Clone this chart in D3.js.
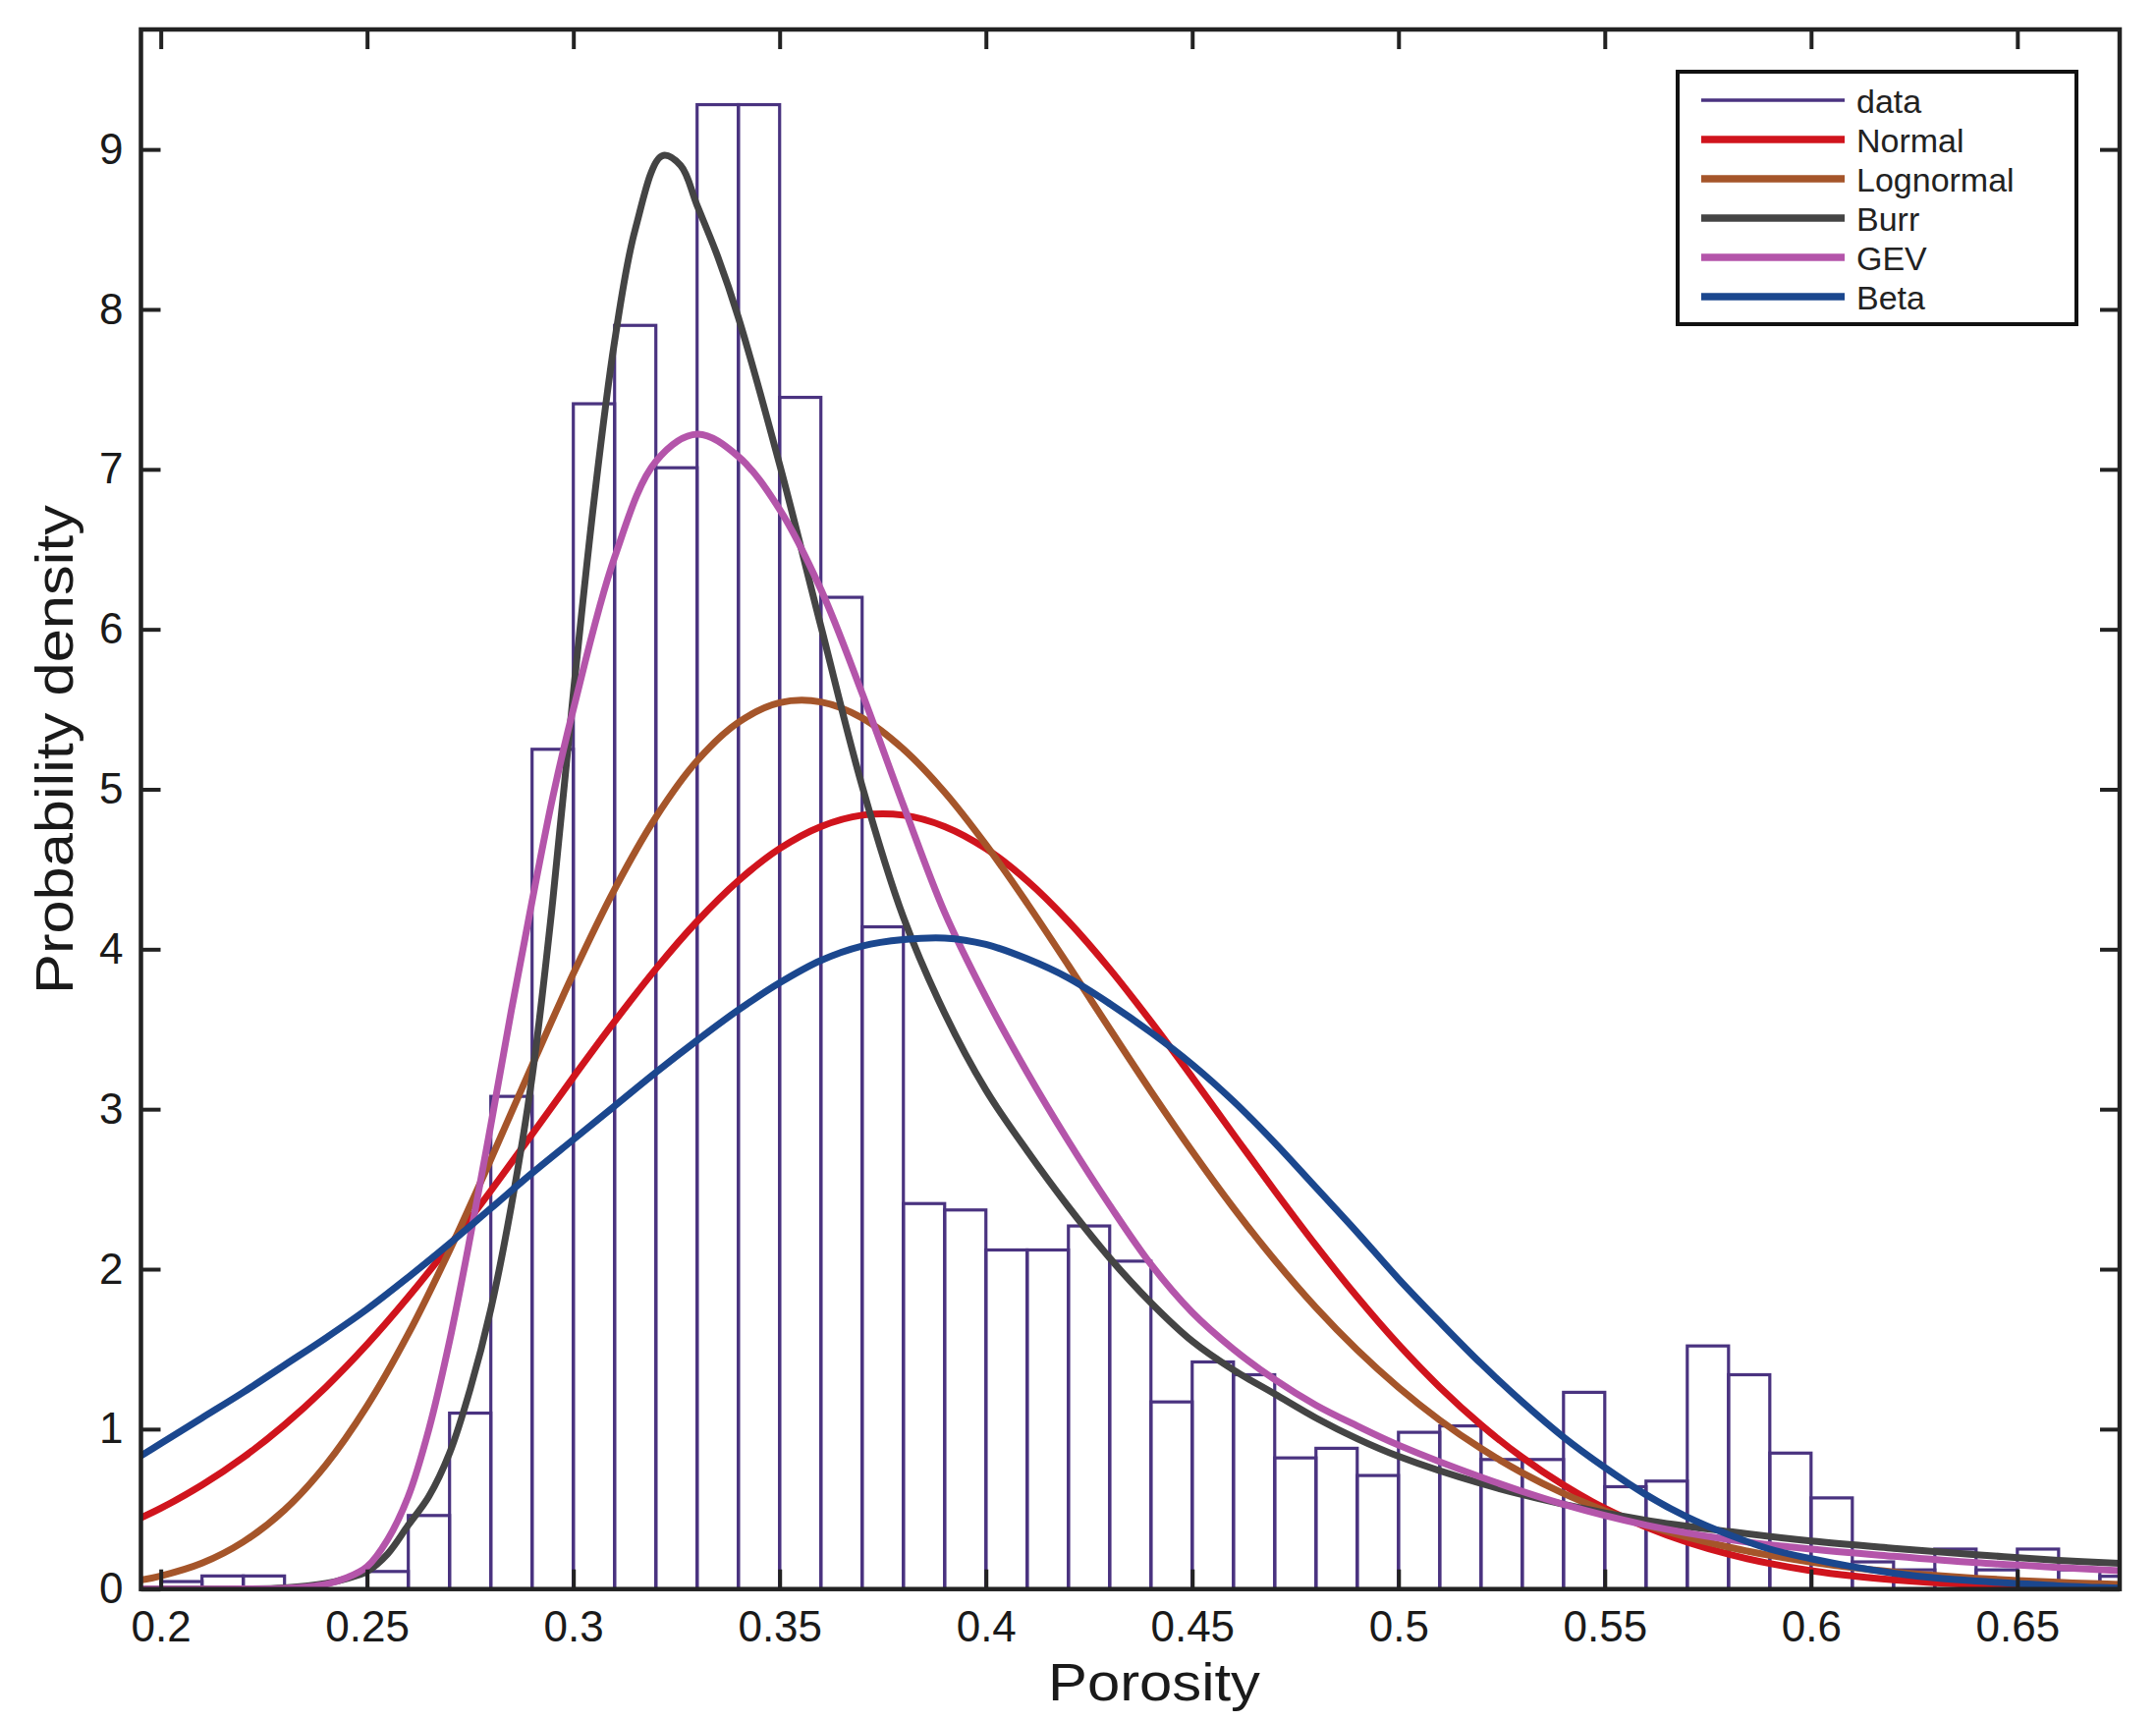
<!DOCTYPE html>
<html>
<head>
<meta charset="utf-8">
<script src="https://cdn.jsdelivr.net/npm/d3@7"></script>
<style>
html,body{margin:0;padding:0;background:#ffffff;}
svg{display:block;font-family:"Liberation Sans",Arial,Helvetica,sans-serif;}
</style>
</head>
<body>
<svg id="chart" width="2195" height="1752"></svg>
<script>
// ---------------- data ----------------
const binLeft = [0.20,0.21,0.22,0.23,0.24,0.25,0.26,0.27,0.28,0.29,0.30,0.31,0.32,0.33,0.34,0.35,0.36,0.37,0.38,0.39,
                 0.40,0.41,0.42,0.43,0.44,0.45,0.46,0.47,0.48,0.49,0.50,0.51,0.52,0.53,0.54,0.55,0.56,0.57,0.58,0.59,
                 0.60,0.61,0.62,0.63,0.64,0.65,0.66,0.67];
const density = [0.047,0.082,0.082,0,0,0.11,0.46,1.10,3.08,5.25,7.41,7.90,7.01,9.28,9.28,7.45,6.20,4.14,2.41,2.37,
                 2.12,2.12,2.27,2.05,1.17,1.42,1.34,0.82,0.88,0.71,0.98,1.02,0.81,0.81,1.23,0.64,0.675,1.52,1.34,0.85,
                 0.57,0.17,0.12,0.25,0.12,0.25,0.12,0.08];
const binWidth = 0.01;

const gridX = [0.195,0.20,0.21,0.22,0.23,0.24,0.25,0.26,0.27,0.28,0.29,0.30,0.31,0.32,0.33,0.34,0.35,0.36,0.37,0.38,
               0.39,0.40,0.41,0.42,0.43,0.44,0.45,0.46,0.47,0.48,0.49,0.50,0.51,0.52,0.53,0.54,0.55,0.56,0.57,0.58,
               0.59,0.60,0.61,0.62,0.63,0.64,0.65,0.66,0.67,0.675];
const normalY = [0.443,0.505,0.650,0.823,1.027,1.262,1.529,1.826,2.148,2.490,2.843,3.200,3.548,3.877,4.174,4.428,4.629,4.767,4.838,4.838,
                 4.767,4.629,4.428,4.174,3.877,3.548,3.200,2.843,2.490,2.148,1.826,1.529,1.262,1.027,0.823,0.650,0.505,0.388,0.293,0.218,
                 0.160,0.115,0.082,0.058,0.040,0.027,0.018,0.012,0.008,0.006];
const lognormalY = [0.056,0.082,0.162,0.295,0.495,0.776,1.144,1.595,2.117,2.686,3.274,3.848,4.375,4.825,5.178,5.418,5.541,5.546,5.446,5.251,
                    4.982,4.654,4.287,3.899,3.503,3.112,2.737,2.383,2.057,1.760,1.495,1.261,1.056,0.879,0.727,0.598,0.490,0.399,0.324,0.262,
                    0.211,0.169,0.135,0.108,0.086,0.068,0.054,0.042,0.033,0.029];
const betaY = [0.83,0.91,1.07,1.23,1.40,1.57,1.75,1.95,2.16,2.38,2.60,2.81,3.02,3.23,3.43,3.62,3.79,3.93,4.02,4.06,
               4.07,4.03,3.94,3.82,3.66,3.48,3.28,3.05,2.79,2.51,2.23,1.94,1.67,1.41,1.17,0.95,0.76,0.59,0.45,0.34,
               0.25,0.19,0.14,0.10,0.07,0.05,0.035,0.02,0.01,0.005];

const burrX = [0.195,0.20,0.21,0.22,0.23,0.24,0.245,0.25,0.255,0.26,0.265,0.27,0.275,0.28,0.285,0.29,0.295,0.30,0.305,0.31,
               0.315,0.3215,0.326,0.33,0.335,0.34,0.35,0.36,0.37,0.38,0.39,0.40,0.41,0.42,0.43,0.44,0.45,0.46,0.47,0.48,
               0.49,0.50,0.52,0.54,0.56,0.58,0.60,0.62,0.64,0.66,0.675];
const burrY = [0,0,0,0.001,0.008,0.035,0.065,0.11,0.22,0.40,0.58,0.85,1.25,1.75,2.4,3.2,4.3,5.6,6.8,7.8,
               8.5,8.96,8.9,8.65,8.33,7.95,7.03,6.02,5.02,4.2,3.6,3.12,2.74,2.39,2.07,1.79,1.55,1.37,1.22,1.07,
               0.94,0.83,0.66,0.53,0.43,0.36,0.30,0.255,0.215,0.18,0.16];

const gevX = [0.195,0.20,0.21,0.22,0.23,0.24,0.245,0.25,0.255,0.26,0.265,0.27,0.275,0.28,0.285,0.29,0.295,0.30,0.31,0.32,
              0.33,0.34,0.35,0.36,0.37,0.38,0.39,0.40,0.41,0.42,0.43,0.44,0.45,0.46,0.47,0.48,0.49,0.50,0.52,0.54,
              0.56,0.58,0.60,0.62,0.64,0.66,0.675];
const gevY = [0,0,0,0.001,0.005,0.03,0.07,0.14,0.31,0.58,1.0,1.55,2.2,2.9,3.62,4.3,4.95,5.5,6.45,7.05,
              7.22,7.08,6.75,6.25,5.6,4.9,4.23,3.7,3.23,2.8,2.4,2.03,1.73,1.5,1.31,1.15,1.02,0.9,0.7,0.53,
              0.40,0.31,0.25,0.205,0.165,0.135,0.115];

const xTicks = [0.2,0.25,0.3,0.35,0.4,0.45,0.5,0.55,0.6,0.65];
const yTicks = [0,1,2,3,4,5,6,7,8,9];
const legendNames = ["data","Normal","Lognormal","Burr","GEV","Beta"];
const xLabel = "Porosity";
const yLabel = "Probability density";

// ---------------- styles ----------------
const colors = {data:"#4a3380", Normal:"#d0141d", Lognormal:"#a5552a", Burr:"#444444", GEV:"#b455aa", Beta:"#1b478e"};
const axisColor = "#222222";

const svg = d3.select("#chart");
const P = {left:143.5, right:2158, top:30, bottom:1617.7};
const x = d3.scaleLinear().domain([0.1952,0.6748]).range([P.left,P.right]);
const y = d3.scaleLinear().domain([0,9.75]).range([P.bottom,P.top]);

svg.append("rect").attr("width",2195).attr("height",1752).attr("fill","#fff");

svg.append("defs").append("clipPath").attr("id","plotClip")
  .append("rect").attr("x",P.left).attr("y",P.top).attr("width",P.right-P.left).attr("height",P.bottom-P.top);

const plot = svg.append("g").attr("clip-path","url(#plotClip)");

// histogram bars
const bars = binLeft.map((b,i)=>({x0:b, x1:b+binWidth, v:density[i]}));
plot.append("g").selectAll("rect").data(bars).join("rect")
  .attr("x", d=>x(d.x0))
  .attr("y", d=>y(d.v))
  .attr("width", d=>x(d.x1)-x(d.x0))
  .attr("height", d=>y(0)-y(d.v))
  .attr("fill","none")
  .attr("stroke", colors.data)
  .attr("stroke-width", 3.2);

// fitted curves
const line = d3.line().x(d=>x(d[0])).y(d=>y(d[1])).curve(d3.curveCatmullRom.alpha(0.5));
const curves = [
  {name:"Normal", xs:gridX, ys:normalY},
  {name:"Lognormal", xs:gridX, ys:lognormalY},
  {name:"Burr", xs:burrX, ys:burrY},
  {name:"GEV", xs:gevX, ys:gevY},
  {name:"Beta", xs:gridX, ys:betaY}
];
curves.forEach(c=>{
  plot.append("path")
    .attr("d", line(c.xs.map((v,i)=>[v,c.ys[i]])))
    .attr("fill","none")
    .attr("stroke", colors[c.name])
    .attr("stroke-width", 7)
    .attr("stroke-linejoin","round")
    .attr("stroke-linecap","round");
});

// axes (ticks inward on all four sides)
const fmt = d => String(+d.toFixed(2));
const gx = svg.append("g").attr("transform",`translate(0,${P.bottom})`)
  .call(d3.axisBottom(x).tickValues(xTicks).tickSize(-20).tickPadding(22).tickFormat(fmt));
const gxt = svg.append("g").attr("transform",`translate(0,${P.top})`)
  .call(d3.axisTop(x).tickValues(xTicks).tickSize(-20).tickFormat(""));
const gy = svg.append("g").attr("transform",`translate(${P.left},0)`)
  .call(d3.axisLeft(y).tickValues(yTicks).tickSize(-20).tickPadding(18).tickFormat(d3.format("d")));
const gyr = svg.append("g").attr("transform",`translate(${P.right},0)`)
  .call(d3.axisRight(y).tickValues(yTicks).tickSize(-20).tickFormat(""));
[gx,gxt,gy,gyr].forEach(g=>{
  g.select(".domain").remove();
  g.selectAll(".tick line").attr("stroke",axisColor).attr("stroke-width",4);
  g.selectAll(".tick text").attr("fill","#1a1a1a").attr("font-size",44)
    .attr("font-family",'"Liberation Sans",Arial,sans-serif');
});

// frame
svg.append("rect")
  .attr("x",P.left).attr("y",P.top)
  .attr("width",P.right-P.left).attr("height",P.bottom-P.top)
  .attr("fill","none").attr("stroke",axisColor).attr("stroke-width",4.5);

// axis labels
svg.append("text")
  .attr("x",1175).attr("y",1731)
  .attr("text-anchor","middle").attr("font-size",54).attr("fill","#1a1a1a")
  .attr("textLength",216).attr("lengthAdjust","spacingAndGlyphs")
  .text(xLabel);
svg.append("text")
  .attr("transform","translate(74,763) rotate(-90)")
  .attr("text-anchor","middle").attr("font-size",54).attr("fill","#1a1a1a")
  .attr("textLength",498).attr("lengthAdjust","spacingAndGlyphs")
  .text(yLabel);

// legend
const L = {x:1708, y:73, w:406, h:257, row0:102, step:40, lx1:1732, lx2:1878, tx:1890};
const lg = svg.append("g");
lg.append("rect").attr("x",L.x).attr("y",L.y).attr("width",L.w).attr("height",L.h)
  .attr("fill","#fff").attr("stroke","#111").attr("stroke-width",4);
const items = lg.selectAll("g.item").data(legendNames).join("g").attr("class","item")
  .attr("transform",(d,i)=>`translate(0,${L.row0+i*L.step})`);
items.append("line").attr("x1",L.lx1).attr("x2",L.lx2).attr("y1",0).attr("y2",0)
  .attr("stroke",d=>colors[d]).attr("stroke-width",d=>d==="data"?3.5:7.5);
items.append("text").attr("x",L.tx).attr("y",13).attr("font-size",34).attr("fill","#222")
  .attr("textLength",d=>null)
  .text(d=>d);
</script>
</body>
</html>
